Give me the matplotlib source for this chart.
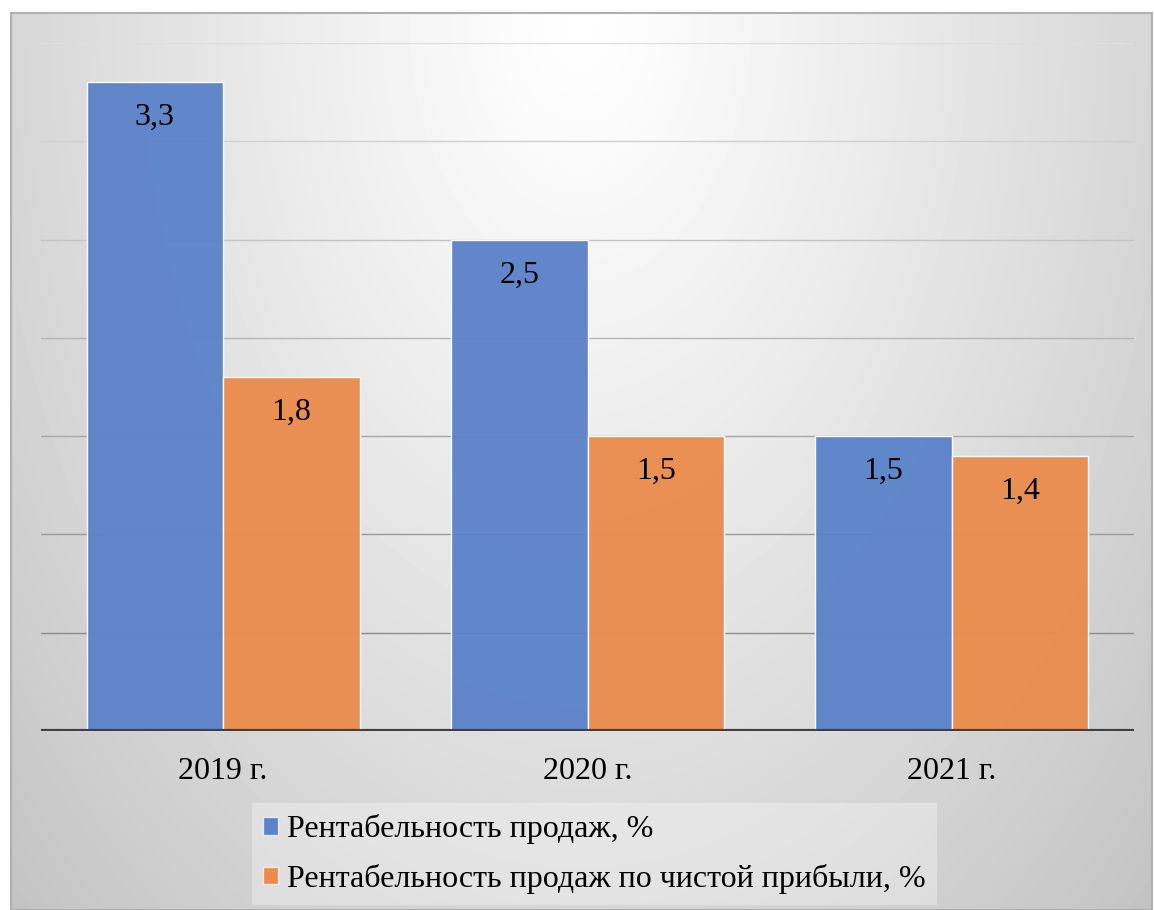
import numpy as np
import matplotlib
matplotlib.use("Agg")
import matplotlib.pyplot as plt
from matplotlib.patches import Patch, Rectangle

# Profitability data by year
categories = ["2019 г.", "2020 г.", "2021 г."]
sales_margin = [3.3, 2.5, 1.5]
net_margin = [1.8, 1.5, 1.4]
series_names = ["Рентабельность продаж, %",
                "Рентабельность продаж по чистой прибыли, %"]

W, H, DPI = 1154, 910, 100
FS = 23
plt.rcParams['font.family'] = ['Liberation Serif', 'DejaVu Serif']

fig = plt.figure(figsize=(W / DPI, H / DPI), dpi=DPI)
fig.patch.set_facecolor('white')

# Chart frame with soft radial shading, brightest at the top centre
fx0, fx1, fy0, fy1 = 11, 1152, 13, 910
bg = fig.add_axes([fx0 / W, 1 - fy1 / H, (fx1 - fx0) / W, (fy1 - fy0) / H])
yy, xx = np.mgrid[fy0:fy1, fx0:fx1]
dx = (xx - 580) / 570.0
dy = (yy - 13) / 897.0
d = np.sqrt(dx ** 2 + dy ** 2)
shade = np.clip(255 - 41 * d ** 1.1, 190, 255) / 255.0
bg.imshow(shade, cmap='gray', vmin=0, vmax=1, aspect='auto',
          interpolation='bilinear')
bg.set_axis_off()
bg.add_patch(Rectangle((0, 0), 1, 1, transform=bg.transAxes, fill=False,
                       edgecolor='#b0b0b0', lw=1.5, clip_on=False))

# Plot area
px0, px1, py_top, py_bot = 41, 1134, 43, 731
ax = fig.add_axes([px0 / W, 1 - py_bot / H, (px1 - px0) / W,
                   (py_bot - py_top) / H])
ax.patch.set_alpha(0)
ax.set_xlim(-0.5, 2.5)
ax.set_ylim(0, 3.5)
for s in ax.spines.values():
    s.set_visible(False)

# Horizontal gridlines, darker toward the bottom
for gy in np.arange(0.5, 3.51, 0.5):
    g = 0.55 + (gy - 0.5) / 3.0 * (0.87 - 0.55)
    ax.axhline(gy, color=(g, g, g), lw=1.0, zorder=1)
ax.axhline(0, color='#404040', lw=3.0, zorder=4)

x = np.arange(len(categories))
w = 0.375
blue, orange = '#5b83c9', '#eb8c4d'
ax.bar(x - w / 2, sales_margin, w, color=blue, alpha=0.96,
       edgecolor=(1, 1, 1, 0.55), lw=1.0, zorder=2)
ax.bar(x + w / 2, net_margin, w, color=orange, alpha=0.96,
       edgecolor=(1, 1, 1, 0.55), lw=1.0, zorder=2)

for xs, vals in ((x - w / 2, sales_margin), (x + w / 2, net_margin)):
    for xi, v in zip(xs, vals):
        ax.annotate(f"{v:.1f}".replace('.', ','), xy=(xi, v),
                    xytext=(0, -43), textcoords='offset pixels',
                    ha='center', va='baseline', fontsize=FS, color='black',
                    zorder=5)

ax.set_xticks(x, categories)
ax.set_yticks([])
ax.tick_params(axis='x', length=0, pad=19, labelsize=FS, colors='black')

handles = [Patch(facecolor=blue, edgecolor=(1, 1, 1, 0.7), lw=1.0),
           Patch(facecolor=orange, edgecolor=(1, 1, 1, 0.7), lw=1.0)]
leg = fig.legend(handles, series_names, loc='upper left',
                 bbox_to_anchor=(252 / W, 1 - 803 / H), fontsize=FS,
                 handlelength=0.47, handleheight=0.47, handletextpad=0.28,
                 borderpad=0.35, labelspacing=0.62, borderaxespad=0,
                 fancybox=False, frameon=True, facecolor='white',
                 framealpha=0.3)
leg.get_frame().set_edgecolor('none')

fig.savefig('out.png', dpi=DPI)
